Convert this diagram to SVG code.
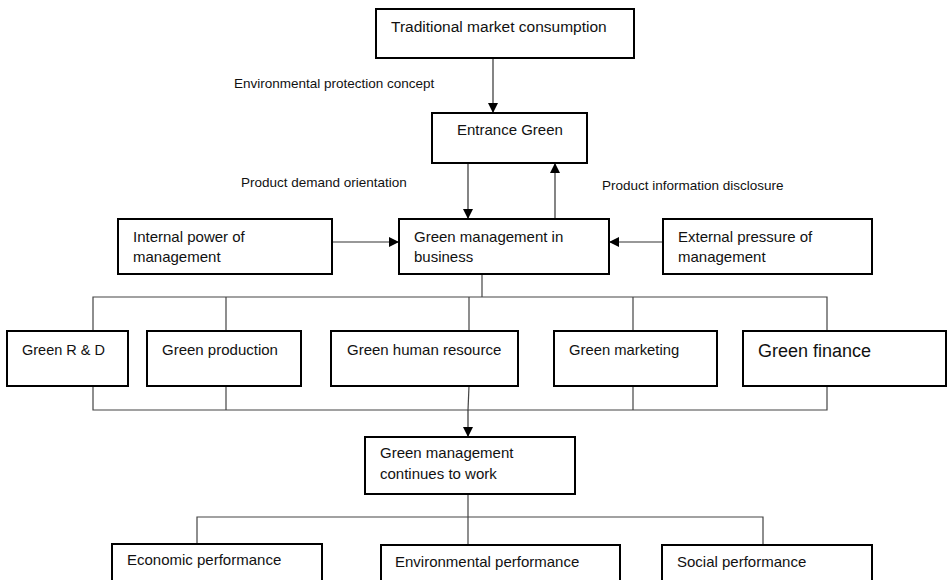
<svg xmlns="http://www.w3.org/2000/svg" width="947" height="580" viewBox="0 0 947 580">
<defs>
<marker id="ah" viewBox="0 0 10 10" refX="10" refY="5" markerWidth="10" markerHeight="10" markerUnits="userSpaceOnUse" orient="auto">
<path d="M0,0 L10,5 L0,10 z" fill="#000"/>
</marker>
<style>
.box{fill:#fff;stroke:#000;stroke-width:2}
.t{font-family:"Liberation Sans",Arial,sans-serif;font-size:15px;fill:#111}
.lbl{font-family:"Liberation Sans",Arial,sans-serif;font-size:13.5px;fill:#111}
.c{fill:none;stroke:#444;stroke-width:1.2}
.a{fill:none;stroke:#333;stroke-width:1.2;marker-end:url(#ah)}
</style>
</defs>
<rect width="947" height="580" fill="#fff"/>
<g id="connectors">
<line class="a" x1="493" y1="58" x2="493" y2="113"/>
<line class="a" x1="468" y1="163" x2="468" y2="219"/>
<line class="a" x1="555" y1="219" x2="555" y2="163"/>
<line class="a" x1="332" y1="242" x2="399" y2="242"/>
<line class="a" x1="663" y1="242" x2="609" y2="242"/>
<polyline class="c" points="482,268 482,297"/>
<polyline class="c" points="93,331 93,297 827,297 827,331"/>
<line class="c" x1="226" y1="297" x2="226" y2="331"/>
<line class="c" x1="469" y1="297" x2="469" y2="331"/>
<line class="c" x1="633" y1="297" x2="633" y2="331"/>
<polyline class="c" points="93,386 93,410 827,410 827,386"/>
<line class="c" x1="226" y1="386" x2="226" y2="410"/>
<line class="c" x1="469" y1="386" x2="468" y2="410"/>
<line class="c" x1="633" y1="386" x2="633" y2="410"/>
<line class="a" x1="468" y1="410" x2="468" y2="437"/>
<line class="c" x1="468" y1="494" x2="468" y2="545"/>
<polyline class="c" points="197,545 197,517 763,517 763,545"/>
</g>
<g id="labels">
<text class="lbl" x="234" y="88">Environmental protection concept</text>
<text class="lbl" x="241" y="187">Product demand orientation</text>
<text class="lbl" x="602" y="190">Product information disclosure</text>
</g>
<g id="traditional"><rect class="box" x="376" y="9" width="258" height="49"/><text class="t" x="391" y="32" style="font-size:15.5px">Traditional market consumption</text></g>
<g id="entrance"><rect class="box" x="432" y="113" width="155" height="50"/><text class="t" x="457" y="135">Entrance Green</text></g>
<g id="internal"><rect class="box" x="118" y="219" width="214" height="55"/><text class="t" x="133" y="242">Internal power of</text><text class="t" x="133" y="262">management</text></g>
<g id="greenmgmt"><rect class="box" x="399" y="219" width="210" height="55"/><text class="t" x="414" y="242">Green management in</text><text class="t" x="414" y="262">business</text></g>
<g id="external"><rect class="box" x="663" y="219" width="209" height="55"/><text class="t" x="678" y="242">External pressure of</text><text class="t" x="678" y="262">management</text></g>
<g id="rnd"><rect class="box" x="7" y="331" width="121" height="55"/><text class="t" x="22" y="355" style="font-size:14.5px">Green R &amp; D</text></g>
<g id="production"><rect class="box" x="147" y="331" width="154" height="55"/><text class="t" x="162" y="355">Green production</text></g>
<g id="hr"><rect class="box" x="331" y="331" width="187" height="55"/><text class="t" x="347" y="355">Green human resource</text></g>
<g id="marketing"><rect class="box" x="554" y="331" width="163" height="55"/><text class="t" x="569" y="355" style="font-size:14.8px">Green marketing</text></g>
<g id="finance"><rect class="box" x="743" y="331" width="203" height="55"/><text class="t" x="758" y="357" style="font-size:18px">Green finance</text></g>
<g id="continues"><rect class="box" x="365" y="437" width="210" height="57"/><text class="t" x="380" y="458">Green management</text><text class="t" x="380" y="479">continues to work</text></g>
<g id="economic"><rect class="box" x="112" y="544" width="210" height="50"/><text class="t" x="127" y="565">Economic performance</text></g>
<g id="environmental"><rect class="box" x="381" y="545" width="239" height="50"/><text class="t" x="395" y="567">Environmental performance</text></g>
<g id="social"><rect class="box" x="662" y="545" width="210" height="50"/><text class="t" x="677" y="567">Social performance</text></g>
</svg>
